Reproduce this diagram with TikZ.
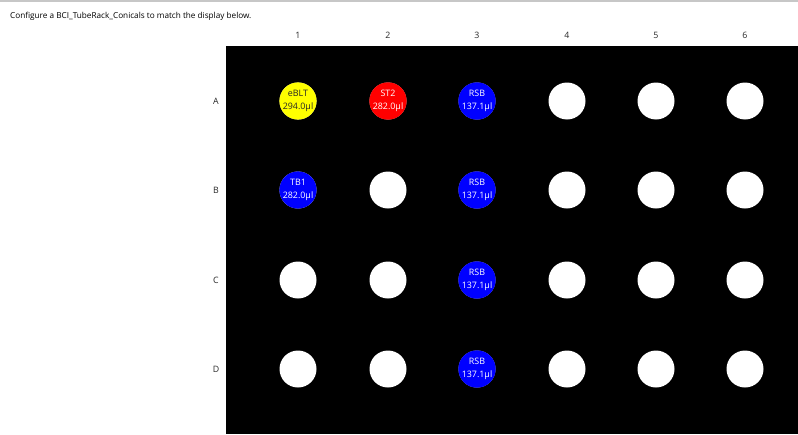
\documentclass[tikz,border=0pt]{standalone}
\usepackage{fontspec}
\setmainfont{Open Sans}
\definecolor{wellblue}{RGB}{0,0,255}
\definecolor{wellred}{RGB}{255,0,0}
\definecolor{wellyellow}{RGB}{255,255,0}
\definecolor{hdr}{RGB}{40,40,40}
\begin{document}
\begin{tikzpicture}[x=1pt,y=-1pt,
  well/.style={circle,minimum size=37pt,inner sep=0pt,fill=white,align=center,
    font=\fontsize{8.9}{13}\selectfont},
  lbl/.style={font=\fontsize{8.8}{10}\selectfont,text=hdr},
]
\useasboundingbox (0,0) rectangle (798,434);
\fill[white] (0,0) rectangle (798,434);
\fill[black!22] (0,0) rectangle (798,1.5);
\node[anchor=west,font=\fontsize{8.2}{9}\selectfont,text=black,inner sep=0pt] (title) at (10,16)
  {Configure a BCI\_TubeRack\_Conicals to match the display below.};
\fill[black] (226,46) rectangle (798,434);
% column labels
\foreach \c/\x in {1/298,2/388,3/477,4/567,5/656,6/745}
  \node[lbl] (col\c) at (\x,35) {\c};
% row labels
\foreach \r/\y in {A/101,B/190,C/280,D/369}
  \node[lbl] (row\r) at (216,\y) {\r};
% wells
\foreach \r/\y in {A/101,B/190,C/280,D/369}
  \foreach \c/\x in {1/298,2/388,3/477,4/567,5/656,6/745}
    \node[well] (w\r\c) at (\x,\y) {};
\node[well,fill=wellyellow,text=black!85] at (wA1) {eBLT\\294.0µl};
\node[well,fill=wellred,text=white] at (wA2) {ST2\\282.0µl};
\node[well,fill=wellblue,text=white] at (wA3) {RSB\\137.1µl};
\node[well,fill=wellblue,text=white] at (wB1) {TB1\\282.0µl};
\node[well,fill=wellblue,text=white] at (wB3) {RSB\\137.1µl};
\node[well,fill=wellblue,text=white] at (wC3) {RSB\\137.1µl};
\node[well,fill=wellblue,text=white] at (wD3) {RSB\\137.1µl};
\end{tikzpicture}
\end{document}
